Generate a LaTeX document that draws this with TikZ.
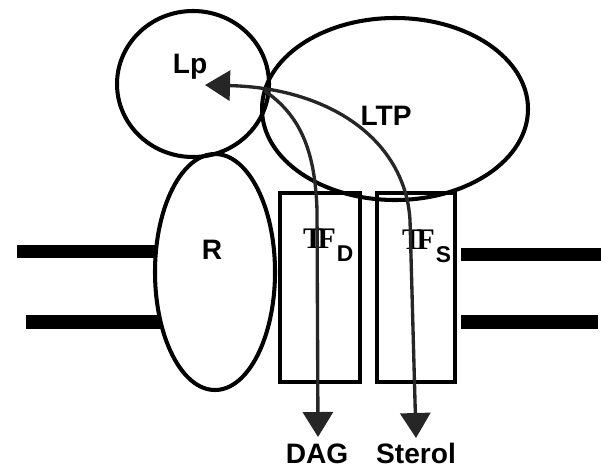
\documentclass[tikz,border=0pt]{standalone}
\usepackage{fontspec}
\setmainfont{Liberation Sans}
\newfontfamily\tffont{Liberation Serif}
\usetikzlibrary{arrows.meta}
\tikzset{
  lbl/.style={font=\fontsize{16}{19}\selectfont\bfseries, inner sep=0pt, anchor=base},
  flow/.style={line width=1.9pt, draw=black!85, {Triangle[length=0.5cm, width=0.6cm]}-{Triangle[length=0.5cm, width=0.6cm]}},
  flowend/.style={line width=1.9pt, draw=black!85, -{Triangle[length=0.5cm, width=0.6cm]}}
}
\newcommand{\tflabel}[1]{{\tffont\bfseries\fontsize{17}{19}\selectfont T\kern-3pt F}\kern0.5pt\raisebox{-0.26cm}{\fontsize{13}{15}\selectfont\bfseries #1}}
\begin{document}
\begin{tikzpicture}[scale=1, line width=2.3pt]
  \useasboundingbox (0,0) rectangle (12.02,9.34);
  \coordinate (LpTip) at (4.10,7.64); \coordinate (SBend) at (8.20,4.94); \coordinate (STip) at (8.32,0.58);
  \coordinate (DBend) at (6.34,5.14); \coordinate (DTip) at (6.36,0.60);
  % membrane
  \fill (0.34,4.18) rectangle (3.12,4.44);
  \fill (0.52,2.76) rectangle (3.21,3.04);
  \fill (9.22,4.12) rectangle (12.02,4.38);
  \fill (9.22,2.76) rectangle (11.96,3.04);
  % Lp, LTP, R
  \draw (3.86,7.66) ellipse[x radius=1.52, y radius=1.46];
  \draw (7.90,7.16) ellipse[x radius=2.66, y radius=1.82];
  \draw (4.30,3.90) ellipse[x radius=1.20, y radius=2.36];
  % TF boxes
  \draw (5.60,1.70) rectangle (7.20,5.48);
  \draw (7.54,1.70) rectangle (9.10,5.48);
  \node[lbl] (lp) at (3.80,7.88) {Lp};
  \node[lbl] (ltp) at (7.72,6.84) {LTP};
  \node[lbl] (r) at (4.24,4.16) {R};
  \node[lbl, anchor=base west] (tfd) at (6.02,4.38) {\tflabel{D}};
  \node[lbl, anchor=base west] (tfs) at (8.00,4.36) {\tflabel{S}};
  \node[lbl] (dag) at (6.34,0.08) {DAG};
  \node[lbl] (sterol) at (8.32,0.08) {Sterol};
  % transfer
  \draw[flow] (LpTip) .. controls (6.60,7.58) and (8.10,6.54) .. (SBend) coordinate[pos=0.17] (J) -- (STip);
  \draw[flowend] (J) .. controls (6.00,7.04) and (6.30,6.34) .. (DBend) -- (DTip);
\end{tikzpicture}
\end{document}
